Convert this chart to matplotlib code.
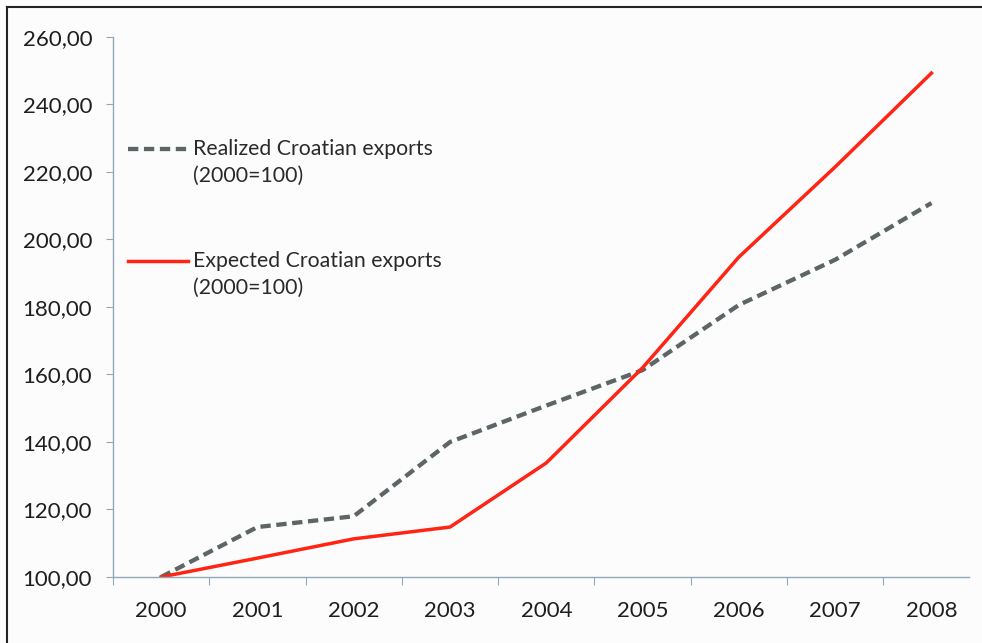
import matplotlib
matplotlib.use("Agg")
import matplotlib.pyplot as plt
from matplotlib.lines import Line2D

plt.rcParams["font.family"] = ["Lato", "DejaVu Sans"]

years = ["2000", "2001", "2002", "2003", "2004", "2005", "2006", "2007", "2008"]
realized = [100.0, 114.8, 118.0, 140.0, 150.8, 161.3, 180.6, 194.0, 210.8]
expected = [100.0, 105.6, 111.3, 114.8, 133.8, 162.0, 194.8, 221.5, 249.3]
yticks = [100, 120, 140, 160, 180, 200, 220, 240, 260]
series_names = ["Realized Croatian exports", "Expected Croatian exports"]

spine_col = "#8fa9b6"
bg = "#fcfcfd"
gray = "#5d6566"
red = "#ff2414"
dash = (0, (2.4, 1.3))

fig = plt.figure(figsize=(9.82, 6.43), dpi=100, facecolor=bg)
ax = fig.add_axes([113 / 982, 66 / 643, (969 - 113) / 982, (577 - 37) / 643])
ax.set_facecolor(bg)

x = list(range(len(years)))
ax.plot(x, realized, color=gray, lw=3.1, linestyle=dash, dash_capstyle="butt")
ax.plot(x, expected, color=red, lw=2.5)

ax.set_xlim(-0.5, 8.39)
ax.set_ylim(100, 260)

for s in ["top", "right"]:
    ax.spines[s].set_visible(False)
for s in ["left", "bottom"]:
    ax.spines[s].set_color(spine_col)
    ax.spines[s].set_linewidth(1.0)

ax.set_yticks(yticks)
ax.set_yticklabels([f"{v:.2f}".replace(".", ",") for v in yticks])
ax.tick_params(axis="y", length=5, color=spine_col, pad=10,
               labelsize=16, labelcolor="#1e1e1e")

# category boundaries carry the tick marks, centres carry the labels
ax.set_xticks([i - 0.5 for i in range(len(years))])
ax.set_xticklabels([])
ax.set_xticks(x, minor=True)
ax.set_xticklabels(years, minor=True)
ax.tick_params(axis="x", which="major", length=6, color=spine_col)
ax.tick_params(axis="x", which="minor", length=0, pad=17,
               labelsize=16, labelcolor="#1e1e1e")

# legend drawn by hand so the key lines sit on the first text line
legend_rows = [(0.7926, gray, 3.1, dash), (0.5852, red, 2.5, "-")]
for name, (ly, col, lw, ls) in zip(series_names, legend_rows):
    ax.add_line(Line2D([0.0175, 0.0876], [ly, ly], color=col, lw=lw,
                       linestyle=ls, dash_capstyle="butt",
                       transform=ax.transAxes))
    ax.text(0.0935, ly, name, transform=ax.transAxes, va="center",
            ha="left", fontsize=15.3, color="#2a2a2a")
    ax.text(0.0935, ly - 27 / 540, "(2000=100)", transform=ax.transAxes,
            va="center", ha="left", fontsize=15.3, color="#2a2a2a")

# frame left over from the original scan (top and left edges only)
fig.add_artist(Line2D([6.5 / 982, 1.0], [1 - 6.5 / 643, 1 - 6.5 / 643],
                      color="#222222", lw=1.5, transform=fig.transFigure))
fig.add_artist(Line2D([6.5 / 982, 6.5 / 982], [0.0, 1 - 6.5 / 643],
                      color="#222222", lw=1.5, transform=fig.transFigure))

fig.savefig("out.png", dpi=100, facecolor=bg)
